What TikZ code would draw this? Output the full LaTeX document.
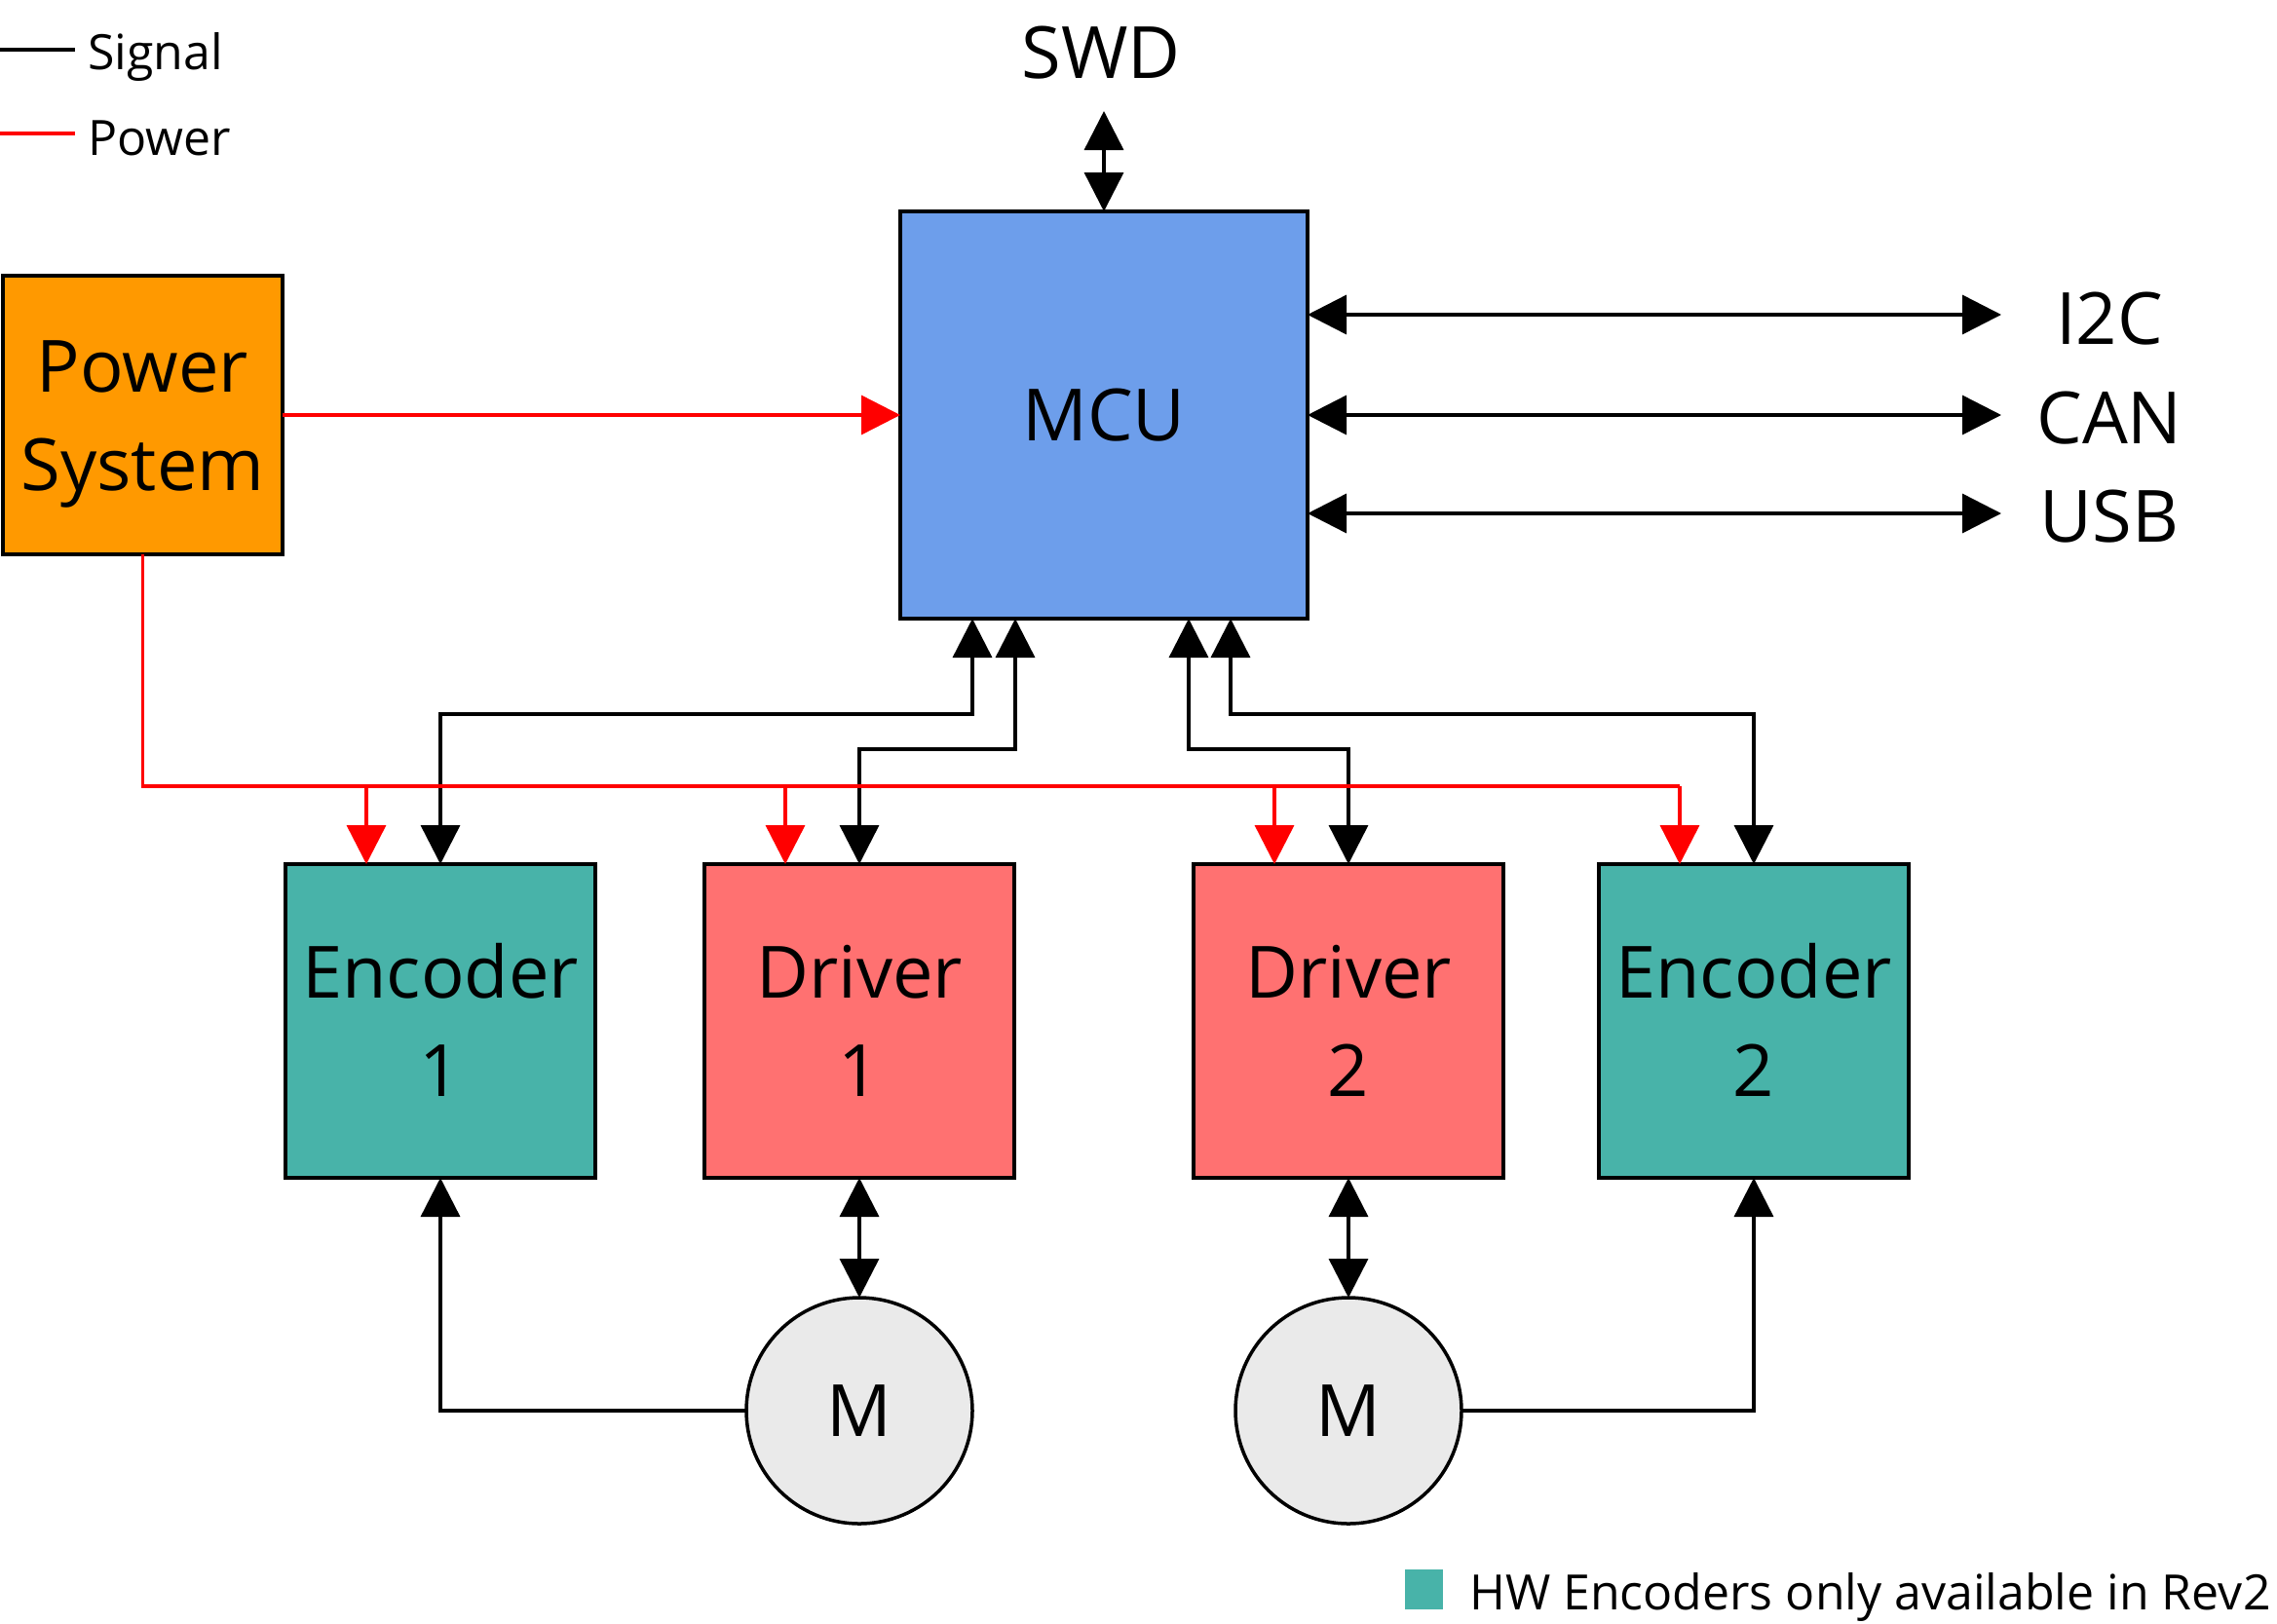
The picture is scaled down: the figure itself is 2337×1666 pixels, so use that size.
\documentclass[tikz,border=0pt]{standalone}
\usepackage{fontspec}
\setmainfont{Open Sans}
\usetikzlibrary{arrows.meta,calc}
\definecolor{mcublue}{HTML}{6D9EEB}
\definecolor{pworange}{HTML}{FF9900}
\definecolor{encteal}{HTML}{48B3A9}
\definecolor{drvred}{HTML}{FF7171}
\definecolor{motorgray}{HTML}{EAEAEA}
\newcommand\BigLbl{\fontsize{74}{101}\selectfont}
\newcommand\SmallLbl{\fontsize{50}{60}\selectfont}
\begin{document}
\begin{tikzpicture}[x=1pt,y=-1pt,
  >={Triangle[length=40pt,width=40pt]},
  sig/.style={draw=black,line width=3.5pt},
  pw/.style={draw=red,line width=3.5pt},
  blk/.style={draw=black,line width=3.5pt,align=center,font=\BigLbl,
    text height=53pt,text depth=0pt,inner sep=0pt,outer sep=0pt},
  twoline/.style={text height=154pt,text depth=0pt},
  motor/.style={circle,draw=black,line width=3.5pt,fill=motorgray,
    minimum size=232pt,inner sep=0pt,outer sep=0pt,font=\BigLbl,
    text height=53pt,text depth=0pt},
  biglbl/.style={font=\BigLbl,anchor=base,inner sep=0pt},
  smalllbl/.style={font=\SmallLbl,anchor=base west,inner sep=0pt}]
\useasboundingbox (0,0) rectangle (2337,1666);

% blocks
\node[blk,fill=mcublue,minimum width=418pt,minimum height=418pt] (mcu) at (1133,426) {MCU};
\node[blk,twoline,fill=pworange,minimum width=287pt,minimum height=286pt] (pwr) at (146.5,426) {Power\\System};
\node[blk,twoline,fill=encteal,minimum width=318pt,minimum height=322pt] (enc1) at (452,1048) {Encoder\\1};
\node[blk,twoline,fill=drvred,minimum width=318pt,minimum height=322pt] (drv1) at (882,1048) {Driver\\1};
\node[blk,twoline,fill=drvred,minimum width=318pt,minimum height=322pt] (drv2) at (1384,1048) {Driver\\2};
\node[blk,twoline,fill=encteal,minimum width=318pt,minimum height=322pt] (enc2) at (1800,1048) {Encoder\\2};
\node[motor] (m1) at (882,1448) {M};
\node[motor] (m2) at (1384,1448) {M};

% external labels
\node[biglbl] (swd) at (1130,80) {SWD};
\node[biglbl] (i2c) at (2165,353) {I2C};
\node[biglbl] (can) at (2165,455) {CAN};
\node[biglbl] (usb) at (2165,556) {USB};

% SWD
\coordinate (swdEnd) at (1133,114);
\draw[sig,<->] (swdEnd) -- (mcu.north);

% right buses
\coordinate (i2cEnd) at (2054,323);
\coordinate (canEnd) at (2054,426);
\coordinate (usbEnd) at (2054,527);
\draw[sig,<->] (mcu.east |- i2cEnd) -- (i2cEnd);
\draw[sig,<->] (mcu.east |- canEnd) -- (canEnd);
\draw[sig,<->] (mcu.east |- usbEnd) -- (usbEnd);

% MCU to encoders / drivers
\coordinate (b1) at (998,733);
\coordinate (b2) at (1042,769);
\coordinate (b3) at (1220,769);
\coordinate (b4) at (1263,733);
\draw[sig,<->] (b1 |- mcu.south) -- (b1) -| (enc1.north);
\draw[sig,<->] (b2 |- mcu.south) -- (b2) -| (drv1.north);
\draw[sig,<->] (b3 |- mcu.south) -- (b3) -| (drv2.north);
\draw[sig,<->] (b4 |- mcu.south) -- (b4) -| (enc2.north);

% power
\draw[pw,->] (pwr.east) -- (mcu.west);
\coordinate (busL) at (146.5,807);
\coordinate (busR) at (1724,807);
\draw[pw] (pwr.south) -- (busL) -- (busR);
\coordinate (p1) at ($(enc1.north)+(-76,0)$);
\coordinate (p2) at ($(drv1.north)+(-76,0)$);
\coordinate (p3) at ($(drv2.north)+(-76,0)$);
\coordinate (p4) at ($(enc2.north)+(-76,0)$);
\draw[pw,->] (p1 |- busL) -- (p1);
\draw[pw,->] (p2 |- busL) -- (p2);
\draw[pw,->] (p3 |- busL) -- (p3);
\draw[pw,->] (p4 |- busL) -- (p4);

% motors
\draw[sig,<->] (drv1.south) -- (m1.north);
\draw[sig,<->] (drv2.south) -- (m2.north);
\draw[sig,->] (m1.west) -| (enc1.south);
\draw[sig,->] (m2.east) -| (enc2.south);

% legend
\coordinate (sigA) at (0,51);
\coordinate (sigB) at (77,51);
\coordinate (pwA) at (0,137);
\coordinate (pwB) at (77,137);
\draw[sig] (sigA) -- (sigB);
\draw[pw] (pwA) -- (pwB);
\node[smalllbl] (sigtxt) at (90,71) {Signal};
\node[smalllbl] (pwtxt) at (90,159) {Power};
\node[fill=encteal,minimum width=39pt,minimum height=41pt,inner sep=0pt,anchor=north west] (sw) at (1442,1611) {};
\node[smalllbl] (hw) at (1508,1652) {HW Encoders only available in Rev2};
\end{tikzpicture}
\end{document}
